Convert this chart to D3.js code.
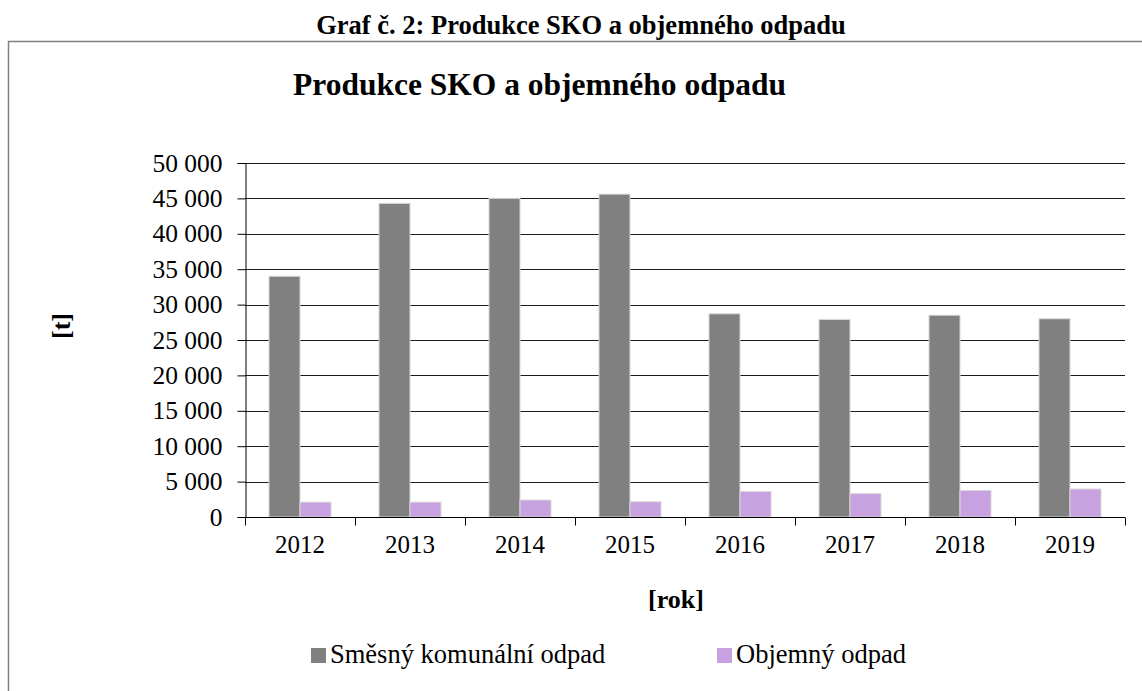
<!DOCTYPE html>
<html>
<head>
<meta charset="utf-8">
<script src="https://cdn.jsdelivr.net/npm/d3@7"></script>
<style>
  html, body { margin: 0; padding: 0; background: #fff; }
  svg { display: block; font-family: "Liberation Serif", "Times New Roman", serif; }
</style>
</head>
<body>
<svg id="chart" width="1142" height="691"></svg>
<script>
// ---- Data ----
const years = ["2012", "2013", "2014", "2015", "2016", "2017", "2018", "2019"];
const seriesNames = ["Směsný komunální odpad", "Objemný odpad"];
const mixedWaste = [34000, 44300, 45000, 45600, 28700, 27900, 28500, 28000];
const bulkyWaste = [2100, 2100, 2400, 2150, 3600, 3300, 3750, 3950];
const yTicks = [0, 5000, 10000, 15000, 20000, 25000, 30000, 35000, 40000, 45000, 50000];
const colors = ["#808080", "#c8a2e0"];

const headerText = "Graf č. 2: Produkce SKO a objemného odpadu";
const titleText = "Produkce SKO a objemného odpadu";
const yTitle = "[t]";
const xTitle = "[rok]";

// ---- Layout ----
const svg = d3.select("#chart");
const plot = { left: 245, right: 1125, top: 163, bottom: 517 };

const x = d3.scaleBand().domain(years).range([plot.left, plot.right]).paddingInner(0).paddingOuter(0);
const xs = d3.scaleBand().domain(seriesNames).range([0, x.bandwidth()]).paddingInner(0).paddingOuter(0.774);
const y = d3.scaleLinear().domain([0, 50000]).range([plot.bottom, plot.top]);

const fmt = v => d3.format(",")(v).replace(/,/g, " ");

// Outer frame
svg.append("path")
  .attr("d", `M8.5,691 L8.5,41.5 L1142,41.5`)
  .attr("fill", "none").attr("stroke", "#808080").attr("stroke-width", 1.5);

// Header above frame
svg.append("text").attr("x", 581).attr("y", 34).attr("text-anchor", "middle")
  .attr("font-size", 26.5).attr("font-weight", "bold").text(headerText);

// Chart title
svg.append("text").attr("x", 293).attr("y", 95).attr("text-anchor", "start")
  .attr("font-size", 31.5).attr("font-weight", "bold").text(titleText);

// Gridlines
svg.append("g").selectAll("line").data(yTicks.filter(d => d > 0)).join("line")
  .attr("x1", plot.left).attr("x2", plot.right)
  .attr("y1", d => Math.round(y(d)) + 0.5).attr("y2", d => Math.round(y(d)) + 0.5)
  .attr("stroke", "#1a1a1a").attr("stroke-width", 1);

// Bars
const data = years.map((yr, i) => ({ year: yr, values: [mixedWaste[i], bulkyWaste[i]] }));
const groups = svg.append("g").selectAll("g").data(data).join("g")
  .attr("transform", d => `translate(${x(d.year)},0)`);
groups.selectAll("rect").data(d => d.values.map((v, j) => ({ name: seriesNames[j], v, j }))).join("rect")
  .attr("x", d => xs(d.name))
  .attr("y", d => y(d.v))
  .attr("width", xs.bandwidth())
  .attr("height", d => y(0) - y(d.v))
  .attr("fill", d => colors[d.j])
  .attr("stroke", "#d8d8d8").attr("stroke-width", 1);

// Y axis
const yAxis = d3.axisLeft(y).tickValues(yTicks).tickSize(8).tickPadding(15).tickFormat(fmt);
const gy = svg.append("g").attr("transform", `translate(${plot.left + 0.5},0)`).call(yAxis);
gy.select(".domain").attr("stroke", "#000");
gy.selectAll(".tick line").attr("stroke", "#000");
gy.selectAll(".tick text").attr("font-size", 25.5).attr("font-family", "Liberation Serif").attr("fill", "#000");

// X axis
const xAxis = d3.axisBottom(x).tickSize(0).tickPadding(18);
const gx = svg.append("g").attr("transform", `translate(0,${plot.bottom + 0.5})`).call(xAxis);
gx.select(".domain").attr("stroke", "#000").attr("d", `M${plot.left},0H${plot.right}`);
gx.selectAll(".tick text").attr("font-size", 25).attr("font-family", "Liberation Serif").attr("fill", "#000");
// boundary tick marks
const bounds = years.map(yr => x(yr)).concat([x(years[years.length - 1]) + x.bandwidth()]);
gx.append("g").selectAll("line").data(bounds).join("line")
  .attr("x1", d => Math.round(d) + 0.5).attr("x2", d => Math.round(d) + 0.5)
  .attr("y1", 0).attr("y2", 8).attr("stroke", "#000");

// Axis titles
svg.append("text").attr("transform", "translate(70,326) rotate(-90)")
  .attr("text-anchor", "middle").attr("font-size", 26).attr("font-weight", "bold").text(yTitle);
svg.append("text").attr("x", 676).attr("y", 608).attr("text-anchor", "middle")
  .attr("font-size", 26).attr("font-weight", "bold").text(xTitle);

// Legend
const legendX = [311, 717];
const leg = svg.append("g").selectAll("g").data(seriesNames).join("g")
  .attr("transform", (d, i) => `translate(${legendX[i]},648)`);
leg.append("rect").attr("width", 15).attr("height", 15).attr("fill", (d, i) => colors[i]);
leg.append("text").attr("x", 19).attr("y", 15).attr("font-size", 26.5).text(d => d);
</script>
</body>
</html>
